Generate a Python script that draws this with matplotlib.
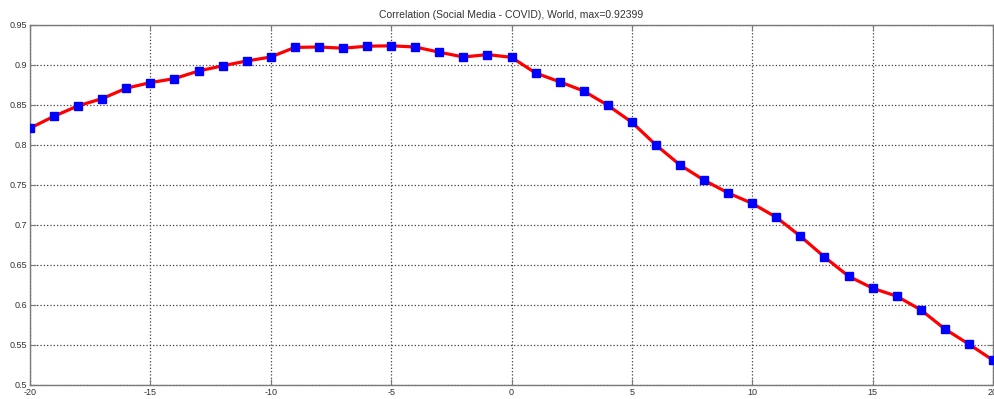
import numpy as np
import matplotlib.pyplot as plt

plt.rcParams['font.family'] = ['Liberation Sans', 'DejaVu Sans']

lags = list(range(-20, 21))
corr = [0.821, 0.836, 0.849, 0.858, 0.871, 0.878, 0.883, 0.8925, 0.899, 0.905,
        0.910, 0.922, 0.9225, 0.921, 0.9235, 0.92399, 0.9225, 0.916, 0.910, 0.913,
        0.9096, 0.890, 0.879, 0.8675, 0.8496, 0.8284, 0.800, 0.775, 0.756, 0.740,
        0.727, 0.7096, 0.686, 0.660, 0.636, 0.621, 0.611, 0.594, 0.570, 0.551,
        0.531]
xticks = [-20, -15, -10, -5, 0, 5, 10, 15, 20]
yticks = [0.5, 0.55, 0.6, 0.65, 0.7, 0.75, 0.8, 0.85, 0.9, 0.95]

fig = plt.figure(figsize=(9.95, 3.99), dpi=100)
ax = fig.add_axes([30 / 995, 14 / 399, 963 / 995, 360 / 399])

ax.plot(lags, corr, color='red', linewidth=2.3, marker='s', markersize=5.5,
        markerfacecolor='blue', markeredgecolor='blue', zorder=3)

ax.set_xlim(-20, 20)
ax.set_ylim(0.5, 0.95)
ax.set_xticks(xticks)
ax.set_xticklabels([str(t) for t in xticks])
ax.set_yticks(yticks)
ax.set_yticklabels(['0.5', '0.55', '0.6', '0.65', '0.7', '0.75', '0.8', '0.85', '0.9', '0.95'])

ax.grid(True, linestyle=':', color='#404040', linewidth=0.9)
for s in ax.spines.values():
    s.set_color('#7a7a7a')
    s.set_linewidth(1.0)
ax.tick_params(direction='in', length=4, width=0.8, color='#7a7a7a',
               labelsize=6.5, labelcolor='#333333', pad=2,
               top=True, right=True)

ax.set_title('Correlation (Social Media - COVID), World, max=0.92399',
             fontsize=7.5, color='#333333', pad=5)

fig.savefig('out.png', dpi=100)
